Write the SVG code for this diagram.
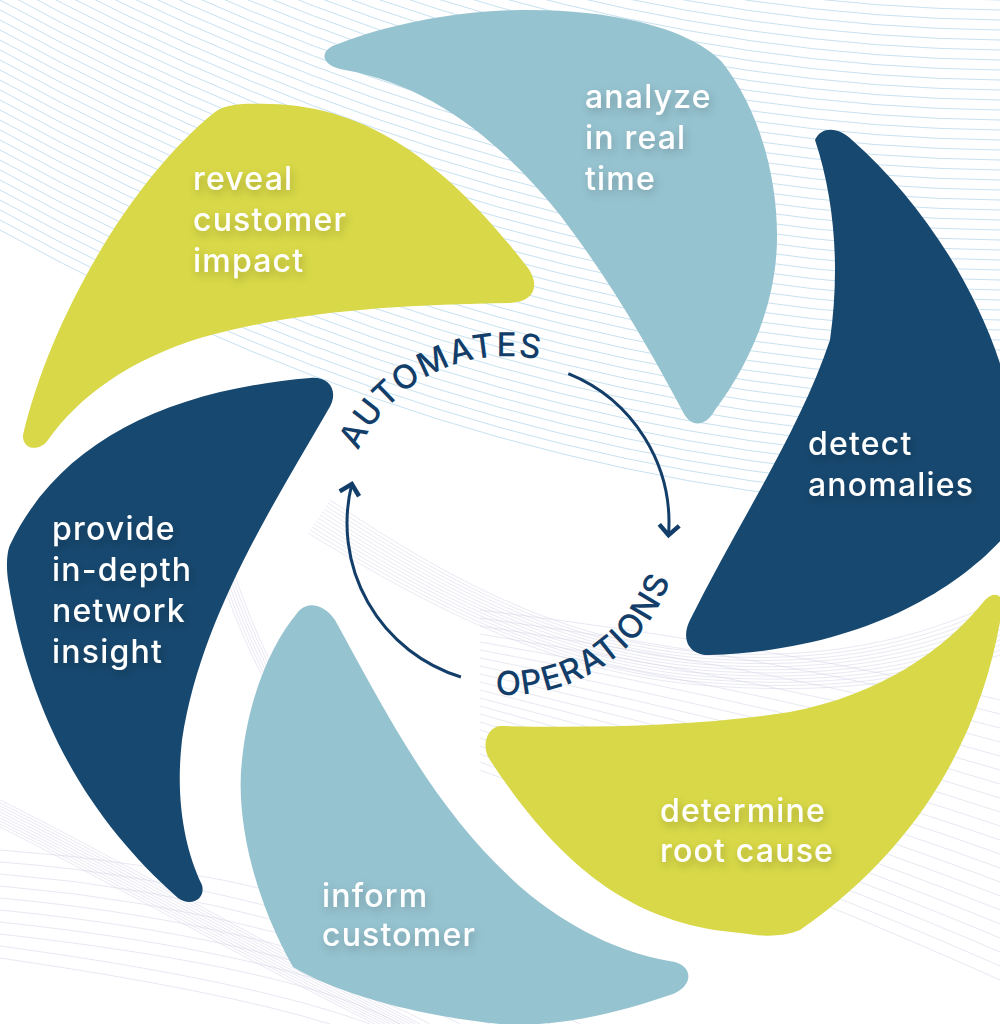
<svg xmlns="http://www.w3.org/2000/svg" width="1000" height="1024" viewBox="0 0 1000 1024">
<defs>
<style>
.bgA{fill:none;stroke:#b9d9ec;stroke-width:0.8}
.bgB{fill:none;stroke:#c9c9e2;stroke-width:0.5;opacity:0.8}
.bgF{fill:none;stroke:#d6d6e8;stroke-width:0.7;opacity:0.8}
.lb{fill:#96c3d0}
.yl{fill:#d8d848}
.nv{fill:#17486f}
.lbl{font-family:Inter,"Noto Sans",sans-serif;font-size:32px;font-weight:500;fill:#ffffff;letter-spacing:1.2px;filter:url(#sh)}
.ring{font-family:Inter,"Noto Sans",sans-serif;font-size:33px;font-weight:500;fill:#123e69;letter-spacing:1.5px}
.arr{fill:none;stroke:#123e69;stroke-width:3}
</style>
<filter id="sh" x="-20%" y="-40%" width="140%" height="180%">
<feDropShadow dx="2" dy="4" stdDeviation="4" flood-color="#000" flood-opacity="0.22"/>
</filter>
<marker id="ah" viewBox="-14 -12 18 24" markerWidth="18" markerHeight="24" refX="0" refY="0" orient="auto" markerUnits="userSpaceOnUse">
<path d="M-10,-10 L0,0 L-10,10" fill="none" stroke="#123e69" stroke-width="4.5" stroke-linejoin="miter"/>
</marker>
<path id="arcTop" d="M343.3,512.9 A163 163 0 0 1 599.1,385.4"/>
<path id="arcBot" d="M431.3,676.9 A172 172 0 0 0 679.7,512.5"/>
</defs>

<g id="background">
<path class="bgA" d="M0,-280Q500,-5 1000,0M0,-270Q500,5 1000,10M0,-260Q500,15 1000,20M0,-250Q500,25 1000,30M0,-240Q500,35 1000,40M0,-230Q500,45 1000,50M0,-220Q500,55 1000,60M0,-210Q500,65 1000,70M0,-200Q500,75 1000,80M0,-190Q500,85 1000,90M0,-180Q500,95 1000,100M0,-170Q500,105 1000,110M0,-160Q500,115 1000,120M0,-150Q500,125 1000,130M0,-140Q500,135 1000,140M0,-130Q500,145 1000,150M0,-120Q500,155 1000,160M0,-110Q500,165 1000,170M0,-100Q500,175 1000,180M0,-90Q500,185 1000,190M0,-80Q500,195 1000,200M0,-70Q500,205 1000,210M0,-60Q500,215 1000,220M0,-50Q500,225 1000,230M0,-40Q500,235 1000,240M0,-30Q500,245 1000,250M0,-20Q500,255 1000,260M0,-10Q500,265 1000,270M0,0Q500,275 1000,280M0,10Q500,285 1000,290M0,20Q500,295 1000,300M0,30Q500,305 1000,310M0,40Q500,315 1000,320M0,50Q500,325 1000,330M0,60Q500,335 1000,340M0,70Q500,345 1000,350M0,80Q500,355 1000,360M0,90Q500,365 1000,370M0,100Q500,375 1000,380M0,110Q500,385 1000,390M0,120Q500,395 1000,400M0,130Q500,405 1000,410M0,140Q500,415 1000,420M0,150Q500,425 1000,430M0,160Q500,435 1000,440M0,170Q500,445 1000,450M0,180Q500,455 1000,460M0,190Q500,465 1000,470M0,200Q500,475 1000,480M0,210Q500,485 1000,490M0,220Q500,495 1000,500M0,230Q500,505 1000,510"/>
<path class="bgB" d="M330,500C450,580 560,640 700,652C820,662 920,640 1000,600M328,503C449,583 560,643 700,655C820,665 920,644 1000,605M326,506C448,586 560,646 700,658C820,668 920,648 1000,610M324,509C447,589 560,649 700,661C820,671 920,652 1000,615M322,512C446,592 560,652 700,664C820,674 920,656 1000,620M320,515C445,595 560,655 700,667C820,677 920,660 1000,625M318,518C444,598 560,658 700,670C820,680 920,664 1000,630M316,521C443,601 560,661 700,673C820,683 920,668 1000,635M314,524C442,604 560,664 700,676C820,686 920,672 1000,640M312,527C441,607 560,667 700,679C820,689 920,676 1000,645M310,530C440,610 560,670 700,682C820,692 920,680 1000,650M308,533C439,613 560,673 700,685C820,695 920,684 1000,655"/>
<path class="bgB" d="M0,800C120,860 240,930 420,1024M0,803C120,863 240,933 415,1024M0,806C120,866 240,936 410,1024M0,809C120,869 240,939 405,1024M0,812C120,872 240,942 400,1024M0,815C120,875 240,945 395,1024M0,818C120,878 240,948 390,1024M0,821C120,881 240,951 385,1024M0,824C120,884 240,954 380,1024M0,827C120,887 240,957 375,1024M215,560C240,640 280,720 340,800M218,560C243,640 283,720 343,800M221,560C246,640 286,720 346,800M224,560C249,640 289,720 349,800M227,560C252,640 292,720 352,800M230,560C255,640 295,720 355,800"/>
<path class="bgF" d="M480,610Q800,650 1000,700M480,618Q800,662 1000,714M480,626Q800,674 1000,728M480,634Q800,686 1000,742M480,642Q800,698 1000,756M480,650Q800,710 1000,770M480,658Q800,722 1000,784M480,666Q800,734 1000,798M480,674Q800,746 1000,812M480,682Q800,758 1000,826M480,690Q800,770 1000,840M480,698Q800,782 1000,854M480,706Q800,794 1000,868M480,714Q800,806 1000,882M480,722Q800,818 1000,896M480,730Q800,830 1000,910M480,738Q800,842 1000,924M480,746Q800,854 1000,938M480,754Q800,866 1000,952M480,762Q800,878 1000,966M480,770Q800,890 1000,980M0,850Q300,870 600,1000M0,862Q300,884 580,1024M0,874Q300,898 550,1024M0,886Q300,912 520,1024M0,898Q300,926 490,1024M0,910Q300,940 460,1024M0,922Q300,954 430,1024M0,934Q300,968 400,1024M0,946Q250,980 370,1024M0,958Q220,990 330,1024"/>
</g>

<g id="node-analyze">
<path class="lb" d="M338,44 C420,12 540,-2 640,22 C680,32 705,45 722,62 C760,110 778,180 777,240 C776,310 745,370 715,410 C705,428 690,428 682,410 C650,350 610,280 560,215 C500,140 430,85 345,70 C320,66 318,50 338,44 Z"/>
<text class="lbl"><tspan x="585" y="108">analyze</tspan><tspan x="585" y="149">in real</tspan><tspan x="585" y="190">time</tspan></text>
</g>

<g id="node-reveal">
<path class="yl" d="M215,112 C230,102 250,104 270,104 C380,106 460,180 528,268 C540,285 535,302 510,303 C400,305 300,310 200,338 C130,360 80,395 48,440 C40,452 22,450 23,435 C50,320 130,180 215,112 Z"/>
<text class="lbl"><tspan x="193" y="190">reveal</tspan><tspan x="193" y="231">customer</tspan><tspan x="193" y="272">impact</tspan></text>
</g>

<g id="node-detect">
<path class="nv" d="M815,140 C822,125 840,128 852,140 C920,200 980,290 1005,380 L1010,530 C960,590 860,650 710,655 C690,656 680,640 690,620 C740,520 800,430 830,340 C840,270 835,200 815,140 Z"/>
<text class="lbl"><tspan x="808" y="455">detect</tspan><tspan x="808" y="496">anomalies</tspan></text>
</g>

<g id="node-determine">
<path class="yl" d="M500,726 C600,728 700,726 790,712 C880,695 945,650 985,600 C995,590 1005,595 1002,610 C985,720 930,840 800,930 C780,938 760,936 740,933 C640,925 565,875 490,760 C480,745 488,727 500,726 Z"/>
<text class="lbl"><tspan x="660" y="822">determine</tspan><tspan x="660" y="862">root cause</tspan></text>
</g>

<g id="node-inform">
<path class="lb" d="M298,612 C308,600 325,605 335,620 C390,720 440,820 530,895 C580,935 630,955 675,962 C695,968 692,988 670,995 C620,1012 560,1028 500,1024 C420,1016 340,995 293,967 C255,900 235,820 242,760 C248,700 270,645 298,612 Z"/>
<text class="lbl"><tspan x="322" y="907">inform</tspan><tspan x="322" y="946">customer</tspan></text>
</g>

<g id="node-provide">
<path class="nv" d="M10,545 C60,440 170,390 310,378 C330,376 340,392 328,410 C270,510 200,620 182,740 C175,800 185,850 202,885 C206,900 190,907 178,898 C90,820 30,720 8,580 C6,565 7,552 10,545 Z"/>
<text class="lbl"><tspan x="52" y="540">provide</tspan><tspan x="52" y="581">in-depth</tspan><tspan x="52" y="622">network</tspan><tspan x="52" y="663">insight</tspan></text>
</g>

<g id="center">
<text class="ring"><textPath href="#arcTop" startOffset="50%" text-anchor="middle">AUTOMATES</textPath></text>
<text class="ring"><textPath href="#arcBot" startOffset="50%" text-anchor="middle">OPERATIONS</textPath></text>
</g>

<g id="connectors">
<path class="arr" d="M568.3,373.7 A161 161 0 0 1 668.5,535.1" marker-end="url(#ah)"/>
<path class="arr" d="M460.9,677 A161 161 0 0 1 351.8,484.1" marker-end="url(#ah)"/>
</g>
</svg>
